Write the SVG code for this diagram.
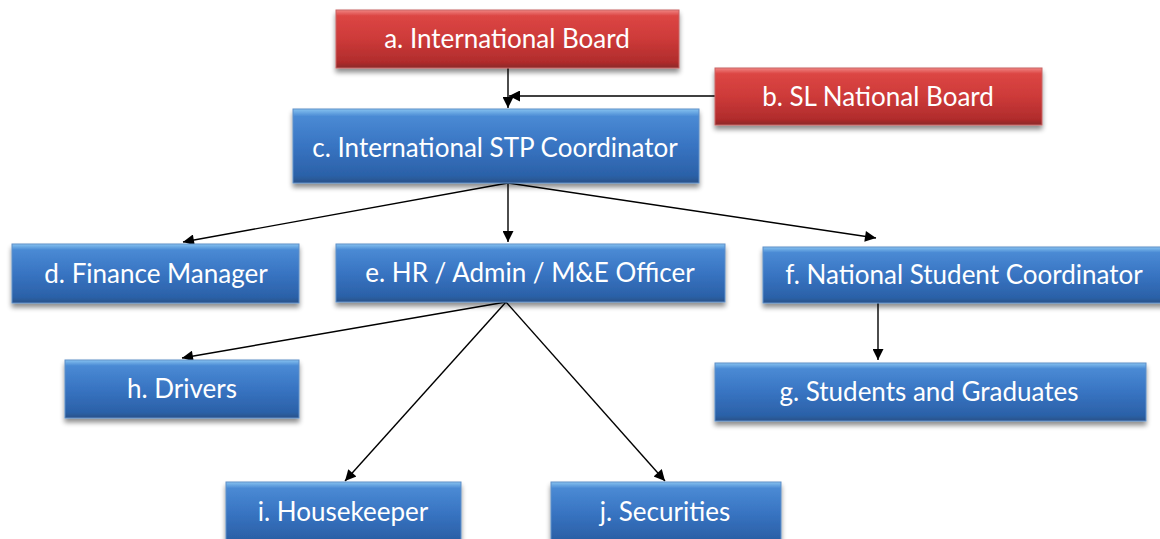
<svg xmlns="http://www.w3.org/2000/svg" width="1160" height="539" viewBox="0 0 1160 539">
<defs>
<linearGradient id="gb" x1="0" y1="0" x2="0" y2="1">
<stop offset="0" stop-color="#86c2f0"/>
<stop offset="0.1" stop-color="#4a8ad4"/>
<stop offset="0.5" stop-color="#3874c2"/>
<stop offset="0.9" stop-color="#2b61a8"/>
<stop offset="1" stop-color="#2a5288"/>
</linearGradient>
<linearGradient id="gr" x1="0" y1="0" x2="0" y2="1">
<stop offset="0" stop-color="#f08482"/>
<stop offset="0.1" stop-color="#dc4644"/>
<stop offset="0.5" stop-color="#cd3a39"/>
<stop offset="0.9" stop-color="#b02c2c"/>
<stop offset="1" stop-color="#8a2a2a"/>
</linearGradient>
<filter id="sh" x="-10%" y="-20%" width="120%" height="160%">
<feGaussianBlur in="SourceAlpha" stdDeviation="2.5"/>
<feOffset dx="0" dy="4" result="b"/>
<feComponentTransfer><feFuncA type="linear" slope="0.45"/></feComponentTransfer>
<feMerge><feMergeNode/><feMergeNode in="SourceGraphic"/></feMerge>
</filter>
<marker id="ah" viewBox="0 0 10 10" refX="10" refY="5" markerWidth="20" markerHeight="11" markerUnits="userSpaceOnUse" orient="auto">
<path d="M0,0 L10,5 L0,10 Z" fill="#000"/>
</marker>
</defs>
<style>
.bb{fill:url(#gb);stroke:#5f8fc8;stroke-width:1;filter:url(#sh)}
.rb{fill:url(#gr);stroke:#c86464;stroke-width:1;filter:url(#sh)}
.t{font-family:Lato,"Liberation Sans",sans-serif;font-size:26px;fill:#fff;text-anchor:middle}
.c{stroke:#000;stroke-width:1.4;fill:none;marker-end:url(#ah)}
</style>
<rect width="1160" height="539" fill="#fff"/>
<g id="connectors">
<line class="c" x1="508" y1="68" x2="508" y2="108"/>
<line class="c" x1="715" y1="96" x2="509" y2="96"/>
<line class="c" x1="508" y1="183" x2="183" y2="242"/>
<line class="c" x1="508" y1="183" x2="508" y2="242"/>
<line class="c" x1="508" y1="183" x2="876" y2="238"/>
<line class="c" x1="506" y1="302" x2="182" y2="358"/>
<line class="c" x1="506" y1="302" x2="345" y2="481"/>
<line class="c" x1="506" y1="302" x2="665" y2="481"/>
<line class="c" x1="878" y1="296" x2="878" y2="360"/>
</g>
<g id="a"><rect class="rb" x="336" y="10" width="343" height="58"/><text class="t" x="507" y="48">a. International Board</text></g>
<g id="b"><rect class="rb" x="715" y="68" width="327" height="57"/><text class="t" x="878" y="106">b. SL National Board</text></g>
<g id="c"><rect class="bb" x="293" y="109" width="406" height="74"/><text class="t" x="495" y="157">c. International STP Coordinator</text></g>
<g id="d"><rect class="bb" x="12" y="244" width="287" height="59"/><text class="t" x="156" y="283">d. Finance Manager</text></g>
<g id="e"><rect class="bb" x="336" y="244" width="389" height="58"/><text class="t" x="530" y="282">e. HR / Admin / M&amp;E Officer</text></g>
<g id="f"><rect class="bb" x="763" y="247" width="402" height="56"/><text class="t" x="964" y="284">f. National Student Coordinator</text></g>
<g id="g"><rect class="bb" x="715" y="363" width="431" height="58"/><text class="t" x="929" y="401">g. Students and Graduates</text></g>
<g id="h"><rect class="bb" x="65" y="360" width="234" height="58"/><text class="t" x="182" y="398">h. Drivers</text></g>
<g id="i"><rect class="bb" x="226" y="482" width="235" height="62"/><text class="t" x="343" y="521">i. Housekeeper</text></g>
<g id="j"><rect class="bb" x="551" y="482" width="230" height="62"/><text class="t" x="665" y="521">j. Securities</text></g>
</svg>
